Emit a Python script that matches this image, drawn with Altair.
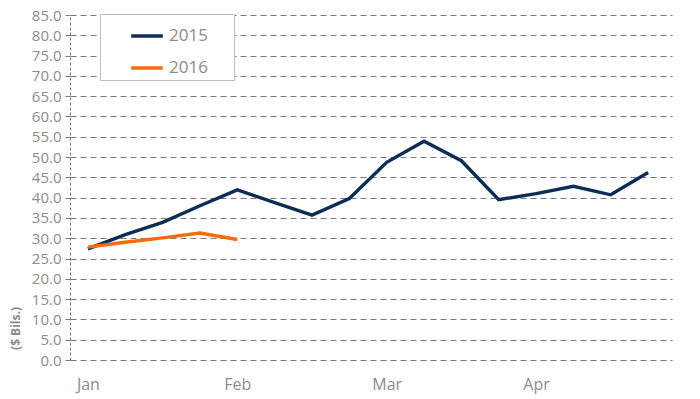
import altair as alt
import pandas as pd

month_labels = ["Jan", "Feb", "Mar", "Apr"]
month_positions = [0, 4, 8, 12]
weeks_2015 = list(range(16))
values_2015 = [27.4, 30.9, 33.9, 38.0, 41.9, 38.8, 35.7, 39.8, 48.7, 53.9, 49.1, 39.5, 41.0, 42.8, 40.7, 46.2]
weeks_2016 = list(range(5))
values_2016 = [27.8, 29.0, 30.1, 31.3, 29.7]
series_names = ["2015", "2016"]
series_colors = ["#0d2d56", "#fc6a0a"]

df = pd.DataFrame(
    {"week": weeks_2015 + weeks_2016,
     "value": values_2015 + values_2016,
     "year": ["2015"] * len(weeks_2015) + ["2016"] * len(weeks_2016)}
)

label_expr = "{" + ",".join(f"'{p}':'{m}'" for p, m in zip(month_positions, month_labels)) + "}[datum.value]"

FONT = "Open Sans"
GRAY = "#8c8c8c"
GRID = "#7a7a7a"

chart = alt.Chart(df).mark_line(strokeWidth=3.4).encode(
    x=alt.X("week:Q",
            scale=alt.Scale(domain=[-0.48, 15.64], nice=False, zero=False),
            axis=alt.Axis(values=month_positions, labelExpr=label_expr, title=None,
                          grid=False, domain=False, ticks=False,
                          labelFont=FONT, labelFontSize=16, labelColor=GRAY,
                          labelPadding=16)),
    y=alt.Y("value:Q",
            scale=alt.Scale(domain=[0, 85], nice=False),
            axis=alt.Axis(values=list(range(0, 90, 5)), format=".1f",
                          title="($ Bils.)", titleFont=FONT, titleFontSize=12,
                          titleFontWeight="bold", titleColor=GRAY,
                          titleX=-55, titleY=313, titleAngle=-90,
                          titleAlign="center", titleBaseline="middle",
                          labelFont=FONT, labelFontSize=15, labelColor=GRAY,
                          labelPadding=4, tickSize=5, tickColor=GRID,
                          domain=True, domainColor=GRID, domainDash=[3, 2],
                          grid=True, gridColor=GRID, gridDash=[6, 4], gridWidth=1.2)),
    color=alt.Color("year:N",
                    scale=alt.Scale(domain=series_names, range=series_colors),
                    legend=alt.Legend(title="MM", titleOrient="right", titleFontSize=12,
                                      titleColor="rgba(255,255,255,0)", titlePadding=2,
                                      orient="none", legendX=30, legendY=-1,
                                      fillColor="white", strokeColor="#bfbfbf",
                                      padding=4, symbolType="stroke", symbolSize=1000,
                                      symbolOffset=25, symbolStrokeWidth=3.5,
                                      labelFont=FONT, labelFontSize=17, labelColor=GRAY,
                                      labelOffset=4, rowPadding=6)),
).properties(
    width=602, height=345,
    padding={"left": 1, "top": 0, "right": 5, "bottom": 5},
).configure_view(stroke=None)

chart.save("out.html", embed_options={"renderer": "svg", "actions": False})
